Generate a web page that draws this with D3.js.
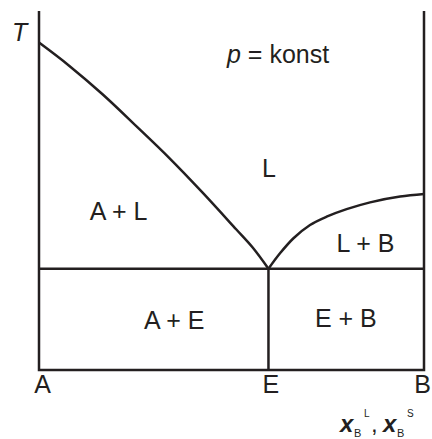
<!DOCTYPE html>
<html>
<head>
<meta charset="utf-8">
<script src="https://cdn.jsdelivr.net/npm/d3@7"></script>
<style>
  html, body { margin: 0; padding: 0; background: #fff; }
  svg { display: block; }
  text { font-family: "Liberation Sans", Arial, sans-serif; fill: #231f20; }
</style>
</head>
<body>
<svg id="chart" width="432" height="439"></svg>
<script>
// ---- Data (composition x_B in [0,1], temperature T in arbitrary units 0..100) ----
const compositionTicks = [0, 0.596, 1];
const tickLabels = ["A", "E", "B"];

// liquidus of A (from T_A down to eutectic)
const liquidusA_x = [0.0, 0.079, 0.165, 0.252, 0.338, 0.425, 0.512, 0.555, 0.596];
const liquidusA_T = [91.2, 84.7, 76.8, 68.0, 59.1, 49.4, 39.2, 34.1, 28.2];

// liquidus of B (from eutectic up to T_B)
const liquidusB_x = [0.596, 0.626, 0.661, 0.704, 0.747, 0.799, 0.860, 0.938, 1.0];
const liquidusB_T = [28.2, 32.5, 36.7, 40.4, 42.7, 44.8, 46.7, 48.3, 49.0];

const eutecticX = 0.596;
const eutecticT = 28.2;
const axisTopT = 100;

// region labels: [text, x_B, T]
const regionNames = ["A + L", "L", "L + B", "A + E", "E + B"];
const regionX = [0.207, 0.597, 0.848, 0.351, 0.797];
const regionT = [41.8, 53.8, 32.9, 11.4, 11.9];

// ---- Scales ----
const x = d3.scaleLinear().domain([0, 1]).range([39, 424]);
const y = d3.scaleLinear().domain([0, 100]).range([370, 11]);

const svg = d3.select("#chart");
const ink = "#231f20";
const lw = 2.5;

const line = d3.line().x(d => x(d[0])).y(d => y(d[1])).curve(d3.curveCatmullRom.alpha(0.5));

// frame: left axis, right axis, bottom axis
svg.append("path")
  .attr("d", d3.line()([[x(0), y(axisTopT)], [x(0), y(0)], [x(1), y(0)], [x(1), y(axisTopT)]]))
  .attr("fill", "none").attr("stroke", ink).attr("stroke-width", lw)
  .attr("stroke-linejoin", "miter");

// eutectic horizontal line
svg.append("line")
  .attr("x1", x(0)).attr("x2", x(1))
  .attr("y1", y(eutecticT)).attr("y2", y(eutecticT))
  .attr("stroke", ink).attr("stroke-width", lw);

// vertical at E
svg.append("line")
  .attr("x1", x(eutecticX)).attr("x2", x(eutecticX))
  .attr("y1", y(eutecticT)).attr("y2", y(0))
  .attr("stroke", ink).attr("stroke-width", lw);

// liquidus curves
svg.append("path")
  .attr("d", line(liquidusA_x.map((v, i) => [v, liquidusA_T[i]])))
  .attr("fill", "none").attr("stroke", ink).attr("stroke-width", lw);
svg.append("path")
  .attr("d", line(liquidusB_x.map((v, i) => [v, liquidusB_T[i]])))
  .attr("fill", "none").attr("stroke", ink).attr("stroke-width", lw);

// region labels
const fs = 25;
regionNames.forEach((t, i) => {
  svg.append("text")
    .attr("x", x(regionX[i])).attr("y", y(regionT[i]))
    .attr("text-anchor", "middle").attr("font-size", fs)
    .text(t);
});

// p = konst
const pk = svg.append("text").attr("x", 227).attr("y", 63).attr("font-size", fs);
pk.append("tspan").attr("font-style", "italic").text("p");
pk.append("tspan").text(" = konst");

// T axis label
svg.append("text").attr("x", 12).attr("y", 41).attr("font-size", fs)
  .attr("font-style", "italic").text("T");

// x tick labels
const tickDx = [3.5, 2.5, -1.5];
compositionTicks.forEach((v, i) => {
  svg.append("text")
    .attr("x", x(v) + tickDx[i]).attr("y", 393)
    .attr("text-anchor", "middle").attr("font-size", fs)
    .text(tickLabels[i]);
});

// x axis label: x_B^L, x_B^S
function xb(x0, sup) {
  svg.append("text").attr("x", x0).attr("y", 432).attr("font-size", 24)
    .attr("font-style", "italic").attr("font-weight", "bold").text("x");
  svg.append("text").attr("x", x0 + 14).attr("y", 437).attr("font-size", 11).text("B");
  svg.append("text").attr("x", x0 + 24).attr("y", 417).attr("font-size", 10).text(sup);
}
xb(340, "L");
svg.append("text").attr("x", 371).attr("y", 432).attr("font-size", 24).text(",");
xb(383, "S");
</script>
</body>
</html>
